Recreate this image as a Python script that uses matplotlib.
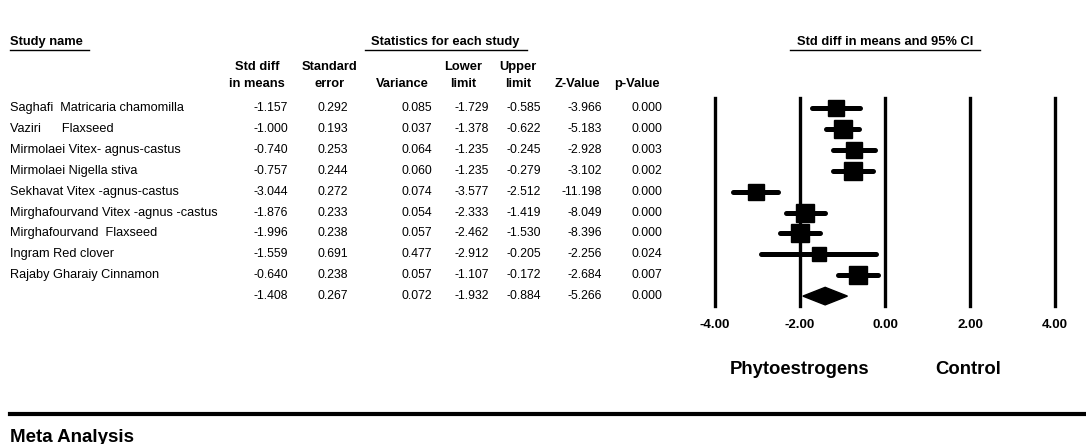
import matplotlib
matplotlib.use("Agg")
import matplotlib.pyplot as plt
import numpy as np

# study rows
studies = ["Saghafi  Matricaria chamomilla", "Vaziri      Flaxseed",
           "Mirmolaei Vitex- agnus-castus", "Mirmolaei Nigella stiva",
           "Sekhavat Vitex -agnus-castus", "Mirghafourvand Vitex -agnus -castus",
           "Mirghafourvand  Flaxseed", "Ingram Red clover", "Rajaby Gharaiy Cinnamon"]
smd = [-1.157, -1.000, -0.740, -0.757, -3.044, -1.876, -1.996, -1.559, -0.640]
se = [0.292, 0.193, 0.253, 0.244, 0.272, 0.233, 0.238, 0.691, 0.238]
var = [0.085, 0.037, 0.064, 0.060, 0.074, 0.054, 0.057, 0.477, 0.057]
lower = [-1.729, -1.378, -1.235, -1.235, -3.577, -2.333, -2.462, -2.912, -1.107]
upper = [-0.585, -0.622, -0.245, -0.279, -2.512, -1.419, -1.530, -0.205, -0.172]
zval = [-3.966, -5.183, -2.928, -3.102, -11.198, -8.049, -8.396, -2.256, -2.684]
pval = [0.000, 0.000, 0.003, 0.002, 0.000, 0.000, 0.000, 0.024, 0.007]
weights = [11.2, 12.0, 11.5, 11.6, 11.4, 11.7, 11.7, 7.1, 11.7]  # relative weight (%)

# pooled row
pooled = [-1.408, 0.267, 0.072, -1.932, -0.884, -5.266, 0.000]

xticks = [-4, -2, 0, 2, 4]

W, H = 1086, 444
y0, dy = 108, 20.9
nrow = len(studies) + 1

fig = plt.figure(figsize=(W / 100, H / 100), dpi=100)
tab = fig.add_axes([0, 0, 1, 1])
tab.set_xlim(0, W)
tab.set_ylim(H, 0)
tab.axis("off")

font = ["Liberation Sans", "DejaVu Sans"]
hsize = 9.3
bsize = 8.8

# headers
def header(x, y, s, ha, x0, x1):
    tab.text(x, y, s, ha=ha, va="center", fontsize=hsize, fontweight="bold", family=font)
    tab.plot([x0, x1], [y + 8, y + 8], color="black", lw=1.0)

header(10, 42, "Study name", "left", 10, 89)
header(445, 42, "Statistics for each study", "center", 365, 527)
header(885, 42, "Std diff in means and 95% CI", "center", 790, 980)

col_right = [288, 348, 432, 489, 541, 602, 662]
head_x = [257, 330, 402, 463, 518, 577, 637]
head_l1 = ["Std diff", "Standard", "", "Lower", "Upper", "", ""]
head_l2 = ["in means", "error", "Variance", "limit", "limit", "Z-Value", "p-Value"]
for hx, l1, l2 in zip(head_x, head_l1, head_l2):
    if l1:
        tab.text(hx, 67, l1, ha="center", va="center", fontsize=hsize,
                 fontweight="bold", family=font)
    tab.text(hx, 84, l2, ha="center", va="center", fontsize=hsize,
             fontweight="bold", family=font)

# table body
cols = [smd, se, var, lower, upper, zval, pval]
for i, name in enumerate(studies):
    y = y0 + dy * i
    tab.text(10, y, name, ha="left", va="center", fontsize=9.2, family=font)
    for xr, c in zip(col_right, cols):
        tab.text(xr, y, f"{c[i]:.3f}", ha="right", va="center", fontsize=bsize, family=font)
y = y0 + dy * len(studies)
for xr, v in zip(col_right, pooled):
    tab.text(xr, y, f"{v:.3f}", ha="right", va="center", fontsize=bsize, family=font)

# forest panel
fx0, fx1 = 715, 1055
top = y0 - 0.48 * dy
bot = y0 + (nrow - 0.52) * dy
ax = fig.add_axes([fx0 / W, 1 - bot / H, (fx1 - fx0) / W, (bot - top) / H])
ax.set_xlim(-4, 4)
ax.set_ylim(nrow - 0.52, -0.48)
for s in ax.spines.values():
    s.set_visible(False)
ax.patch.set_alpha(0)
for xv in xticks:
    ax.axvline(xv, color="black", lw=2.4, zorder=1, clip_on=False)

rows = np.arange(len(studies))
for r, m, lo, hi, w in zip(rows, smd, lower, upper, weights):
    ax.plot([lo, hi], [r, r], color="black", lw=3.6, solid_capstyle="round", zorder=2)
    ax.plot(m, r, marker="s", color="black", ms=12.3 * np.sqrt(w / 11.7), zorder=3)

pr = len(studies)
pm, plo, phi = pooled[0], pooled[3], pooled[4]
ax.fill([plo, pm, phi, pm], [pr, pr - 0.42, pr, pr + 0.42], color="black", zorder=3)

ax.set_yticks([])
ax.set_xticks(xticks)
ax.set_xticklabels([f"{v:.2f}" for v in xticks], fontsize=9.5, fontweight="bold", family=font)
ax.tick_params(axis="x", length=0, pad=9)

tab.text(800, 369, "Phytoestrogens", ha="center", va="center", fontsize=13.3,
         fontweight="bold", family=font)
tab.text(968, 369, "Control", ha="center", va="center", fontsize=13.3,
         fontweight="bold", family=font)

tab.plot([10, W], [414, 414], color="black", lw=3)
tab.text(10, 437, "Meta Analysis", ha="left", va="center", fontsize=13.5,
         fontweight="bold", family=font)

fig.savefig("out.png", dpi=100)
